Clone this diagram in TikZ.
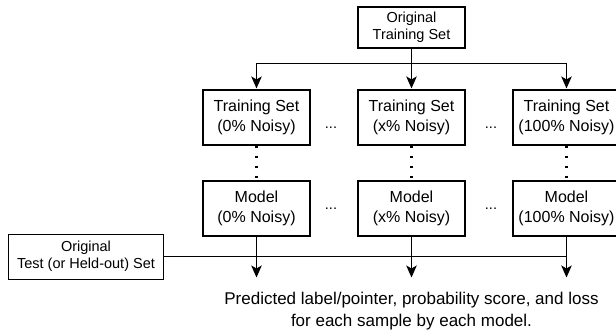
\documentclass[tikz,border=0pt]{standalone}
\usepackage{fontspec}
\setmainfont{Liberation Sans}
\usetikzlibrary{arrows.meta,positioning}

\begin{document}
\begin{tikzpicture}[shorten >=1pt,node distance=155pt,on grid,line width=1.1pt,
    >={Stealth[length=12pt,width=10.5pt,inset=3pt]},
    box/.style={draw,align=center,minimum width=107pt,minimum height=55pt,
      font=\fontsize{16}{20}\selectfont},
    smallbox/.style={box,minimum height=41pt,font=\fontsize{14.5}{17}\selectfont},
    gap/.style={inner sep=0pt,font=\fontsize{14.5}{17}\selectfont},
    dots/.style={line width=2.5pt,dash pattern=on 2.5pt off 7.5pt,shorten >=0pt}]
    \useasboundingbox (-411.5pt,117.5pt) rectangle (204.5pt,-217.5pt);
    \node[box] (t2) at (0,0) {Training Set\\(x\% Noisy)};
    \node[box] (t1) [left=of t2] {Training Set\\(0\% Noisy)};
    \node[box] (t3) [right=of t2] {Training Set\\(100\% Noisy)};
    \node[smallbox] (orig) [above=90pt of t2] {Original\\Training Set};
    \node[box] (m1) [below=91pt of t1] {Model\\(0\% Noisy)};
    \node[box] (m2) [below=91pt of t2] {Model\\(x\% Noisy)};
    \node[box] (m3) [below=91pt of t3] {Model\\(100\% Noisy)};
    \node[smallbox,minimum width=155pt,minimum height=45pt] (test)
        [below left=48.2pt and 170.5pt of m1] {Original\\Test (or Held-out) Set};
    \node[gap] (g1) [below right=10.5pt and 74.5pt of t1] {...};
    \node[gap] (g2) [below right=10.5pt and 79.5pt of t2] {...};
    \node[gap] (g3) [right=74.5pt of m1] {...};
    \node[gap] (g4) [right=79.5pt of m2] {...};
    \node[align=center,font=\fontsize{17}{21.7}\selectfont] (out) [below=102.7pt of m2]
        {Predicted label/pointer, probability score, and loss\\for each sample by each model.};
    \coordinate[below=36.2pt of orig] (split);
    \coordinate[below=70pt of m1] (e1);
    \coordinate[below=70pt of m2] (e2);
    \coordinate[below=70pt of m3] (e3);
    % fan out of the training set
    \draw[->] (orig) -- (t2);
    \draw[->] (split) -| (t1);
    \draw[->] (split) -| (t3);
    \draw[dots] (t1) -- (m1);
    \draw[dots] (t2) -- (m2);
    \draw[dots] (t3) -- (m3);
    % test set and outputs
    \draw (test) -- (m3 |- test);
    \path[->]
        (m1) edge (e1)
        (m2) edge (e2)
        (m3) edge (e3);
\end{tikzpicture}
\end{document}
